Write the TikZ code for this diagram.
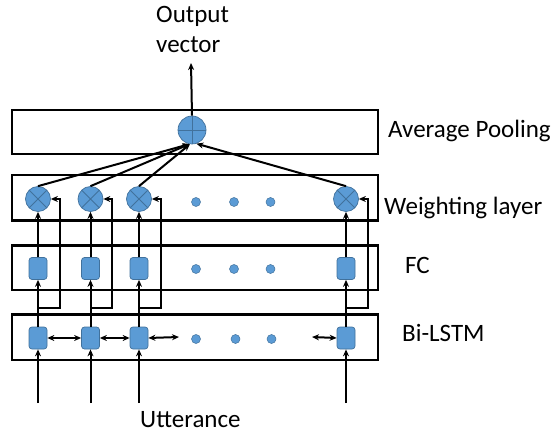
\documentclass[tikz,border=0pt]{standalone}
\usepackage{fontspec}
\setmainfont{Carlito}
\usetikzlibrary{arrows.meta,calc}
\definecolor{cellfill}{HTML}{5B9BD5}
\definecolor{celledge}{HTML}{41719C}
\begin{document}
\begin{tikzpicture}[x=1pt,y=-1pt,
  layerbox/.style={draw, line width=2.2pt, inner sep=0pt},
  cell/.style={rounded corners=3pt, fill=cellfill, draw=celledge, line width=0.7pt, minimum width=18pt, minimum height=22pt, inner sep=0pt},
  mult/.style={circle, fill=cellfill, draw=celledge, line width=0.7pt, minimum size=25pt, inner sep=0pt,
    path picture={\draw[celledge,line width=0.8pt] (path picture bounding box.north west)--(path picture bounding box.south east)
      (path picture bounding box.north east)--(path picture bounding box.south west);}},
  summ/.style={circle, fill=cellfill, draw=celledge, line width=0.7pt, minimum size=28pt, inner sep=0pt,
    path picture={\draw[celledge,line width=0.8pt] (path picture bounding box.north)--(path picture bounding box.south)
      (path picture bounding box.east)--(path picture bounding box.west);}},
  dot/.style={circle, fill=cellfill, draw=celledge, line width=0.5pt, minimum size=9pt, inner sep=0pt},
  arr/.style={-{Stealth[length=7pt,width=6pt]}, line width=2pt},
  darr/.style={{Stealth[length=7pt,width=6pt]}-{Stealth[length=7pt,width=6pt]}, line width=2pt},
  lbl/.style={anchor=base west, inner sep=0pt, font=\fontsize{25}{30}\selectfont}
]
\useasboundingbox (0,0) rectangle (556,435);
% layer boxes
\node[layerbox, minimum width=366pt, minimum height=44pt] (avgbox) at (195,132) {};
\node[layerbox, minimum width=366pt, minimum height=45.5pt] (wbox) at (195,197.75) {};
\node[layerbox, minimum width=366pt, minimum height=44.5pt] (fcbox) at (195,267.75) {};
\node[layerbox, minimum width=366pt, minimum height=45.5pt] (lbox) at (195,337.25) {};
% sum
\node[summ] (sum) at (192,130) {};
% weighting
\node[mult] (w1) at (38,199) {};
\node[mult] (w2) at (90.5,199) {};
\node[mult] (w3) at (139,199) {};
\node[mult] (w4) at (346,199) {};
\node[dot] (wd1) at (196,202) {};
\node[dot] (wd2) at (234,202) {};
\node[dot] (wd3) at (270.5,202) {};
% FC
\node[cell] (f1) at (38,268.5) {};
\node[cell] (f2) at (90.5,268.5) {};
\node[cell] (f3) at (139,268.5) {};
\node[cell] (f4) at (346,268.5) {};
\node[dot] (fd1) at (196,269) {};
\node[dot] (fd2) at (234,269) {};
\node[dot] (fd3) at (270.5,269) {};
% LSTM
\node[cell] (l1) at (38,338) {};
\node[cell] (l2) at (90.5,338) {};
\node[cell] (l3) at (139,338) {};
\node[cell] (l4) at (346,338) {};
\node[dot] (ld1) at (196,339) {};
\node[dot] (ld2) at (235.5,339) {};
\node[dot] (ld3) at (271.5,339) {};
% inputs
\coordinate (i1) at (38,403);
\coordinate (i2) at (90.5,403);
\coordinate (i3) at (139,403);
\coordinate (i4) at (346,403);
\coordinate (c3) at (179,337);
\coordinate (c4) at (312,337);
\coordinate (out) at (191,63);
% arrows
\foreach \k in {1,2,3,4}{
  \draw[arr] (i\k) -- (l\k);
  \draw[arr] (l\k) -- (f\k);
  \draw[arr] (f\k) -- (w\k);
  \draw[arr] ([yshift=19pt]l\k.north) -- ++(21.5,0) |- (w\k.east);
}
\draw[darr] (l1) -- (l2);
\draw[darr] (l2) -- (l3);
\draw[darr] (l3.east) -- (c3);
\draw[darr] (c4) -- (l4.west);
\draw[arr] (w1.north) -- (sum.-100);
\draw[arr] (w2.north) -- (sum.-100);
\draw[arr] (w3.north) -- (sum.-98);
\draw[arr] (w4.north) -- (sum.-72);
\draw[arr] (sum.north) -- (out);
% labels
\node[lbl] (tout) at (156,23) {Output};
\node[lbl] (tvec) at (156,53) {vector};
\node[lbl] (tutt) at (140,427.5) {Utterance};
\node[lbl] (tavg) at (388,138) {Average Pooling};
\node[lbl] (twl) at (384,215) {Weighting layer};
\node[lbl] (tfc) at (405,273) {FC};
\node[lbl] (tbl) at (402,341) {Bi-LSTM};
\end{tikzpicture}
\end{document}
